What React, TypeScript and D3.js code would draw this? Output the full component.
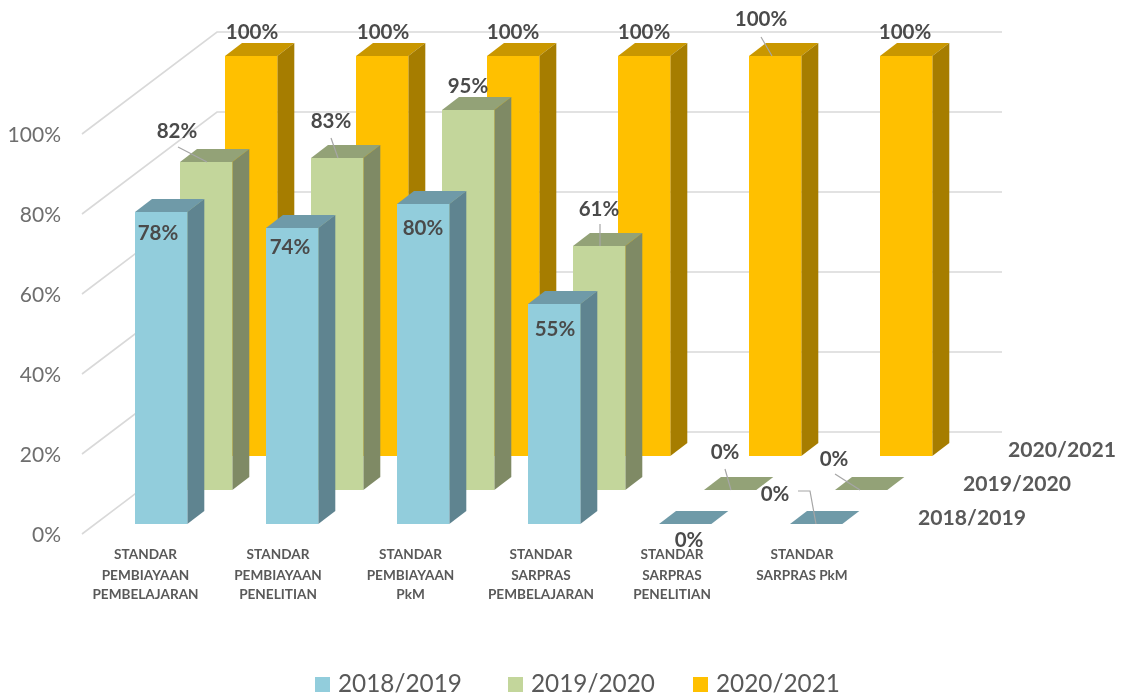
import React from "react";
import * as d3 from "d3";

const categories = [
  ["STANDAR", "PEMBIAYAAN", "PEMBELAJARAN"],
  ["STANDAR", "PEMBIAYAAN", "PENELITIAN"],
  ["STANDAR", "PEMBIAYAAN", "PkM"],
  ["STANDAR", "SARPRAS", "PEMBELAJARAN"],
  ["STANDAR", "SARPRAS", "PENELITIAN"],
  ["STANDAR", "SARPRAS PkM"],
];
const seriesNames = ["2018/2019", "2019/2020", "2020/2021"];
const values2018 = [78, 74, 80, 55, 0, 0];
const values2019 = [82, 83, 95, 61, 0, 0];
const values2020 = [100, 100, 100, 100, 100, 100];
const ticks = [0, 20, 40, 60, 80, 100];

const seriesValues = [values2018, values2019, values2020];
const faceColors = ["#92CDDC", "#C3D69B", "#FFC000"];
const topColors = ["#6F9AA8", "#93A277", "#C99700"];
const sideColors = ["#5F8490", "#7F8A65", "#A67D00"];

// layout: label anchor points and leader lines, per series and category
const labelPos: [number, number][][] = [
  [[158, 233], [290, 247], [423, 228], [555, 329], [689, 540], [775, 494]],
  [[177, 131], [331, 121], [468, 86], [599, 209], [725, 452], [834, 459]],
  [[252, 32], [383, 32], [513, 32], [644, 32], [761, 19], [905, 32]],
];
const leaders: [number, number][][] = [
  [[178, 147], [207, 162]],
  [[331, 138], [338, 158]],
  [[600, 224], [600, 246]],
  [[761, 37], [772, 56]],
  [[725, 469], [731, 490]],
  [[835, 474], [860, 490]],
  [[798, 491], [810, 491], [816, 524]],
];
const catLabelX = [145.5, 278, 410.5, 541, 672, 802];
const catLabelY = [554, 575, 594];
const legendSwatchX = [315, 508, 693];
const legendTextX = [338, 531, 716];

const FONT = "Lato, Carlito, 'Open Sans', sans-serif";
const barW = 52.3;
const dx = 17;
const dy = 13;

// value → pixels of height
const h = d3.scaleLinear().domain([0, 100]).range([0, 400]);
// tick level at the front-left edge of the floor
const yFront = d3.scaleLinear().domain([0, 100]).range([534, 134]);
// category → x of the front series
const xCat = d3.scaleLinear().domain([0, 5]).range([135, 790]);
// series → depth offset
const depthX = d3.scaleLinear().domain([0, 2]).range([0, 90]);
const baseY = d3.scaleLinear().domain([0, 2]).range([524, 456]);

const line = d3.line();
const poly = (p: [number, number][]) => line(p) + "Z";

export default function App() {
  return (
    <svg
      width={1121}
      height={697}
      style={{ position: "absolute", left: 0, top: 0, background: "#fff", filter: "blur(0.5px)" }}
      fontFamily={FONT}
    >
      {ticks.map((t) => {
        const y = yFront(t);
        return (
          <g key={t}>
            <path
              d={line([[82, y], [217, y - 102], [1002, y - 102]]) ?? ""}
              fill="none"
              stroke="#D9D9D9"
              strokeWidth={1.6}
            />
            <text x={61} y={y + 8} textAnchor="end" fontSize={21} fill="#6E6E6E">
              {t}%
            </text>
          </g>
        );
      })}

      {[2, 1, 0].map((s) =>
        seriesValues[s].map((v, i) => {
          const x = xCat(i) + depthX(s);
          const b = baseY(s);
          const t = b - h(v);
          return (
            <g key={`${s}-${i}`}>
              <path
                d={poly([[x, t], [x + dx, t - dy], [x + barW + dx, t - dy], [x + barW, t]])}
                fill={topColors[s]}
              />
              {v > 0 && (
                <>
                  <path
                    d={poly([[x + barW, t], [x + barW + dx, t - dy], [x + barW + dx, b - dy], [x + barW, b]])}
                    fill={sideColors[s]}
                  />
                  <rect x={x} y={t} width={barW} height={b - t} fill={faceColors[s]} />
                </>
              )}
            </g>
          );
        })
      )}

      {leaders.map((l, i) => (
        <path key={i} d={line(l) ?? ""} fill="none" stroke="#A6A6A6" strokeWidth={1.2} />
      ))}

      {seriesValues.map((vals, s) =>
        vals.map((v, i) => (
          <text
            key={`${s}-${i}`}
            x={labelPos[s][i][0]}
            y={labelPos[s][i][1] + 7}
            textAnchor="middle"
            fontSize={20.5}
            fontWeight={700}
            fill="#4A4A4A"
          >
            {v}%
          </text>
        ))
      )}

      {categories.map((lines, i) =>
        lines.map((l, j) => (
          <text
            key={`${i}-${j}`}
            x={catLabelX[i]}
            y={catLabelY[j] + 5}
            textAnchor="middle"
            fontSize={13.6}
            fontWeight={700}
            fill="#595959"
          >
            {l}
          </text>
        ))
      )}

      {seriesNames.map((n, s) => (
        <text
          key={n}
          x={918 + depthX(s)}
          y={524 - (s * 68) / 2 + 1}
          fontSize={20}
          fontWeight={700}
          fill="#595959"
          textLength={108}
          lengthAdjust="spacingAndGlyphs"
        >
          {n}
        </text>
      ))}

      {seriesNames.map((n, s) => (
        <g key={n}>
          <rect x={legendSwatchX[s]} y={677} width={15} height={15} fill={faceColors[s]} />
          <text
            x={legendTextX[s]}
            y={692}
            fontSize={25}
            fill="#595959"
            textLength={124}
            lengthAdjust="spacingAndGlyphs"
          >
            {n}
          </text>
        </g>
      ))}
    </svg>
  );
}
